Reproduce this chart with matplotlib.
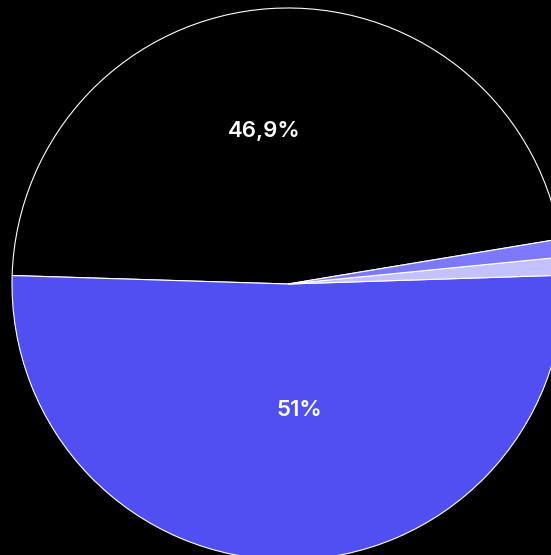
import numpy as np
import matplotlib.pyplot as plt

# share of each segment, in percent
labels = ['A', 'B', 'C', 'D']
shares = [46.9, 51.0, 1.05, 1.05]
colors = ['#000000', '#5050F2', '#C3C1FF', '#7C79FF']
shown = ['46,9%', '51%', None, None]

fig = plt.figure(figsize=(5.51, 5.55), dpi=100, facecolor='black')
ax = fig.add_axes([0, 0, 1, 1])
ax.set_facecolor('black')

wedges, _ = ax.pie(shares, colors=colors, startangle=9.4, counterclock=True,
                   wedgeprops=dict(edgecolor='white', linewidth=0.8))

# label positions (radius fraction, angle in degrees)
label_pos = {0: (0.56, 98.9), 1: (0.46, 275.0)}
for i, (r, a) in label_pos.items():
    t = np.deg2rad(a)
    ax.text(r * np.cos(t), r * np.sin(t), shown[i], color='white',
            ha='center', va='center', fontsize=16, fontfamily='Inter',
            fontweight='semibold')

ax.set_aspect('auto')
ax.set_xlim(-288 / 276, 263 / 276)
ax.set_ylim(-271 / 276, 284 / 276)
ax.axis('off')

fig.savefig('out.png', dpi=100, facecolor='black')
